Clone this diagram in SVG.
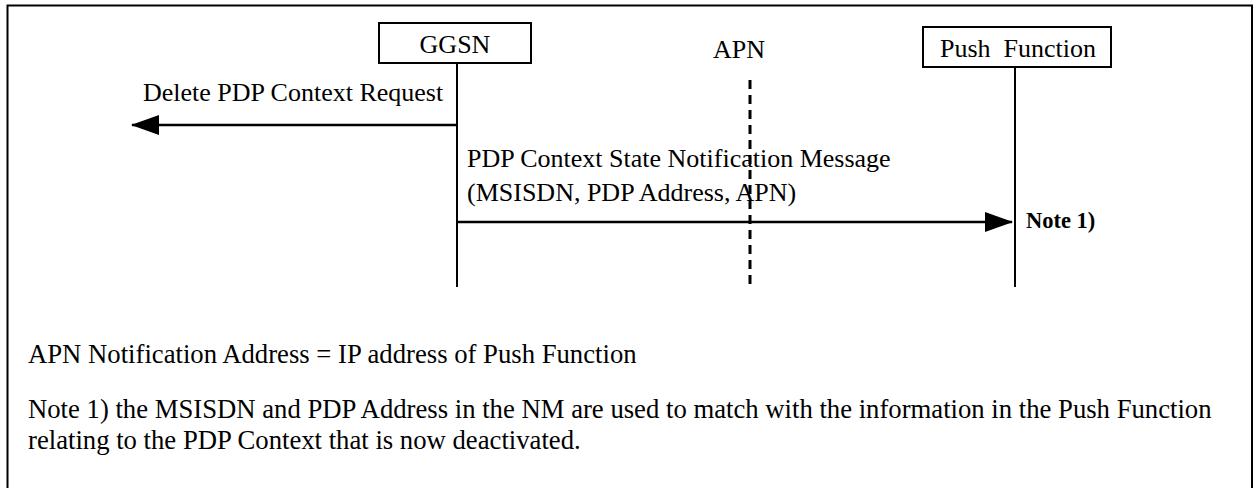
<svg xmlns="http://www.w3.org/2000/svg" width="1255" height="488" viewBox="0 0 1255 488">
<style>
text{font-family:"Liberation Serif","Times New Roman",serif;fill:#000;}
.t{font-size:26px;}
.b{font-size:26.7px;}
.box{fill:#fff;stroke:#000;stroke-width:2;}
.life{stroke:#000;stroke-width:2;fill:none;}
.msg{stroke:#000;stroke-width:2.5;fill:none;}
</style>
<defs>
<marker id="ah" viewBox="0 0 28 20" refX="27" refY="10" markerWidth="28" markerHeight="20" markerUnits="userSpaceOnUse" orient="auto">
<path d="M0,0 L28,10 L0,20 Z" fill="#000"/>
</marker>
</defs>
<rect x="7.5" y="5.5" width="1244.5" height="500" fill="#fff" stroke="#000" stroke-width="2"/>
<g id="ggsn">
<rect class="box" x="379" y="23" width="152" height="40"/>
<text class="t" x="455" y="53" text-anchor="middle">GGSN</text>
<line class="life" x1="457" y1="63" x2="457" y2="287"/>
</g>
<g id="apn">
<text class="t" x="739" y="58" text-anchor="middle">APN</text>
<line x1="750" y1="80" x2="750" y2="287" stroke="#000" stroke-width="3" stroke-dasharray="9,6"/>
</g>
<g id="push">
<rect class="box" x="923" y="27" width="188" height="40"/>
<text class="t" x="1018" y="57" text-anchor="middle" xml:space="preserve">Push  Function</text>
<line class="life" x1="1015" y1="67" x2="1015" y2="287"/>
</g>
<g id="connectors">
<line class="msg" x1="457" y1="125" x2="132" y2="125" marker-end="url(#ah)"/>
<text class="t" x="143" y="101">Delete PDP Context Request</text>
<line class="msg" x1="457" y1="222" x2="1012" y2="222" marker-end="url(#ah)"/>
<text class="t" x="467" y="167">PDP Context State Notification Message</text>
<text class="t" x="467" y="201">(MSISDN, PDP Address, APN)</text>
<text x="1026" y="228" font-size="22.5" font-weight="bold">Note 1)</text>
</g>
<g id="notes">
<text class="b" x="28" y="363">APN Notification Address = IP address of Push Function</text>
<text class="b" x="28" y="418">Note 1) the MSISDN and PDP Address in the NM are used to match with the information in the Push Function</text>
<text class="b" x="28" y="449">relating to the PDP Context that is now deactivated.</text>
</g>
</svg>
